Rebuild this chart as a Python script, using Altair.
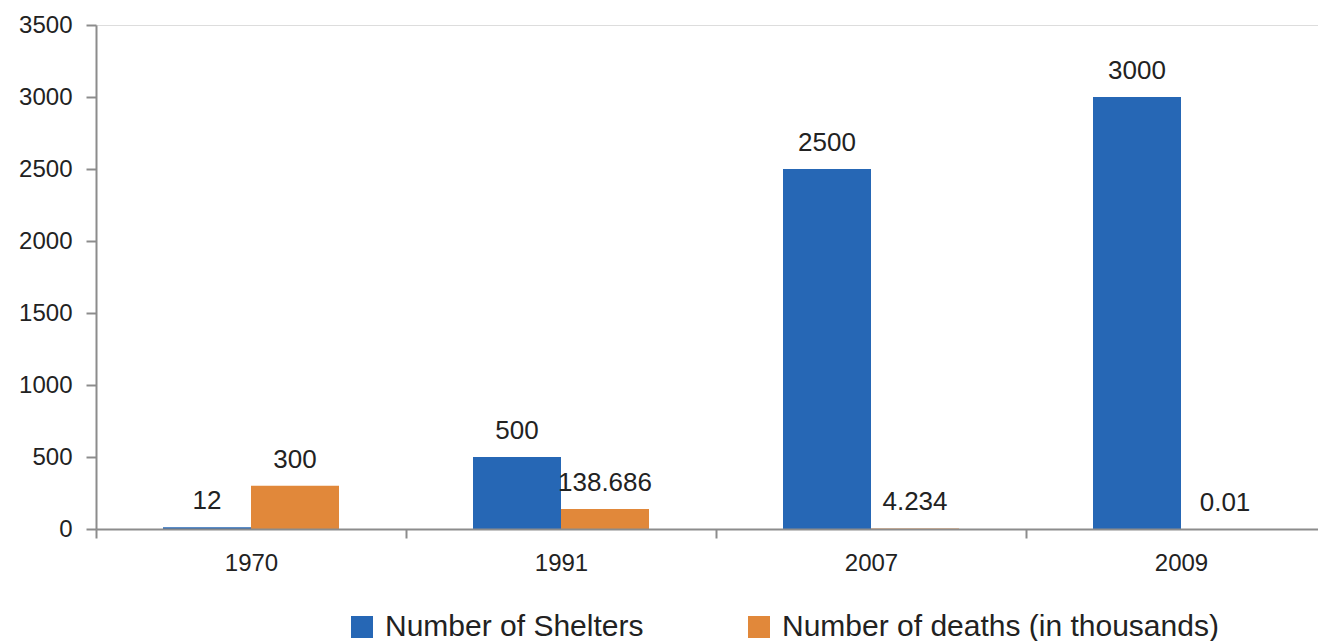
import altair as alt
import pandas as pd

years = ["1970", "1991", "2007", "2009"]
series_names = ["Number of Shelters", "Number of deaths (in thousands)"]
shelters = [12, 500, 2500, 3000]
deaths = [300, 138.686, 4.234, 0.01]
y_ticks = [0, 500, 1000, 1500, 2000, 2500, 3000, 3500]
colors = ["#2667B5", "#E1883A"]

rows = []
for i, yr in enumerate(years):
    rows.append({"year": yr, "series": series_names[0], "value": shelters[i], "label": f"{shelters[i]:g}"})
    rows.append({"year": yr, "series": series_names[1], "value": deaths[i], "label": f"{deaths[i]:g}"})
df = pd.DataFrame(rows)

FONT = "Liberation Sans"

x_enc = alt.X(
    "year:N",
    sort=years,
    scale=alt.Scale(range=[0, 1240], paddingInner=0, paddingOuter=0),
    axis=alt.Axis(
        title=None, labelAngle=0, labelFontSize=24, labelFont=FONT, labelColor="#222222",
        labelPadding=13, tickBand="extent", tickSize=9, tickWidth=2, tickColor="#8c8c8c",
        domainColor="#8c8c8c", domainWidth=2, grid=False, zindex=1,
    ),
)
xoff_scale = alt.Scale(domain=series_names, paddingInner=0, paddingOuter=0.7614)
y_enc = alt.Y(
    "value:Q",
    scale=alt.Scale(domain=[0, 3500], nice=False),
    axis=alt.Axis(
        title=None, values=y_ticks, format="d", labelFontSize=24, labelFont=FONT, labelColor="#222222",
        labelPadding=14, tickSize=10, tickWidth=2, tickColor="#8c8c8c",
        domainColor="#8c8c8c", domainWidth=2, grid=False, zindex=1,
    ),
)

bars = alt.Chart(df).mark_bar().encode(
    x=x_enc,
    xOffset=alt.XOffset("series:N", sort=series_names, scale=xoff_scale),
    y=y_enc,
    color=alt.Color(
        "series:N",
        sort=series_names,
        scale=alt.Scale(domain=series_names, range=colors),
        legend=alt.Legend(
            title=None, orient="none", direction="horizontal", legendX=251, legendY=587,
            symbolType="square", symbolSize=484, symbolStrokeWidth=0, symbolOpacity=1,
            labelFontSize=30, labelFont=FONT, labelColor="#222222", labelOffset=8,
            columnPadding=100, padding=0, labelLimit=600,
        ),
    ),
)

labels = alt.Chart(df).mark_text(
    baseline="middle", align="center", dy=-26, fontSize=26, font=FONT, color="#222222"
).encode(
    x=alt.X("year:N", sort=years),
    xOffset=alt.XOffset("series:N", sort=series_names),
    y=alt.Y("value:Q"),
    text="label:N",
)

chart = (
    alt.layer(bars, labels)
    .properties(
        width=1222, height=504,
        autosize=alt.AutoSizeParams(type="none"),
        padding={"left": 96, "top": 25, "right": 0, "bottom": 112},
    )
    .configure_view(stroke=None)
    .configure(background="white")
)

chart.save("out.html", embed_options={"renderer": "svg", "actions": False})
